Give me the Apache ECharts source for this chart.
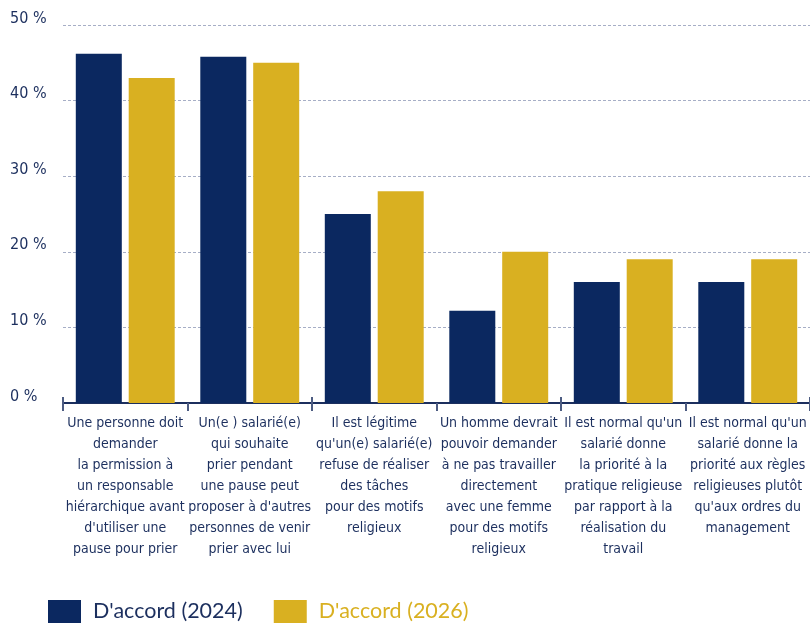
<!DOCTYPE html>
<html>
<head>
<meta charset="utf-8">
<script src="https://cdn.jsdelivr.net/npm/echarts@6/dist/echarts.min.js"></script>
<style>
  html, body { margin: 0; padding: 0; background: #fff; }
  #chart { width: 810px; height: 625px; }
</style>
</head>
<body>
<div id="chart"></div>
<script>
const categories = [
  "Une personne doit\ndemander\nla permission à\nun responsable\nhiérarchique avant\nd'utiliser une\npause pour prier",
  "Un(e ) salarié(e)\nqui souhaite\nprier pendant\nune pause peut\nproposer à d'autres\npersonnes de venir\nprier avec lui",
  "Il est légitime\nqu'un(e) salarié(e)\nrefuse de réaliser\ndes tâches\npour des motifs\nreligieux",
  "Un homme devrait\npouvoir demander\nà ne pas travailler\ndirectement\navec une femme\npour des motifs\nreligieux",
  "Il est normal qu'un\nsalarié donne\nla priorité à la\npratique religieuse\npar rapport à la\nréalisation du\ntravail",
  "Il est normal qu'un\nsalarié donne la\npriorité aux règles\nreligieuses plutôt\nqu'aux ordres du\nmanagement"
]
const seriesNames = ["D'accord (2024)", "D'accord (2026)"]
const values2024 = [46.2, 45.8, 25, 12.2, 16, 16]
const values2026 = [43, 45, 28, 20, 19, 19]

const navy = '#0b2860'
const gold = '#d9b021'
const textNavy = '#1c2f5e'
const condensed = '"DejaVu Sans Condensed", "Liberation Sans Narrow", sans-serif'

const chart = echarts.init(document.getElementById('chart'))

const option = {
  animation: false,
  grid: {
    left: 63,
    right: 0,
    top: 25,
    bottom: 222
  },
  legend: {
    left: 48,
    bottom: 2,
    padding: 0,
    itemWidth: 33,
    itemHeight: 23,
    itemGap: 31,
    icon: 'rect',
    textStyle: {
      fontFamily: 'Lato, sans-serif',
      fontSize: 21.5,
      padding: [0, 0, 0, 7]
    },
    data: [
      { name: seriesNames[0], textStyle: { color: textNavy } },
      { name: seriesNames[1], textStyle: { color: gold } }
    ]
  },
  xAxis: [
    {
      type: 'category',
      data: categories,
      axisLine: { lineStyle: { color: textNavy, width: 2 } },
      axisTick: { show: true, length: 8, lineStyle: { color: '#4d5c82', width: 2 } },
      axisLabel: {
        interval: 0,
        color: textNavy,
        fontFamily: condensed,
        fontSize: 14,
        lineHeight: 21,
        margin: 10
      }
    },
    {
      type: 'category',
      data: categories,
      position: 'bottom',
      axisLine: { show: false },
      axisTick: { show: true, inside: true, length: 6, lineStyle: { color: '#4d5c82', width: 2 } },
      axisLabel: { show: false }
    }
  ],
  yAxis: {
    type: 'value',
    min: 0,
    max: 50,
    interval: 10,
    axisLine: { show: false },
    axisTick: { show: false },
    splitLine: { lineStyle: { color: '#a6aec6', type: [3, 2], width: 1 } },
    axisLabel: {
      align: 'left',
      margin: 53,
      color: textNavy,
      fontFamily: condensed,
      fontSize: 16,
      verticalAlign: 'bottom',
      lineHeight: 13,
      formatter: v => v + ' %'
    }
  },
  series: [
    {
      name: seriesNames[0],
      type: 'bar',
      data: values2024,
      barWidth: 46,
      barGap: '15%',
      itemStyle: { color: navy }
    },
    {
      name: seriesNames[1],
      type: 'bar',
      data: values2026,
      barWidth: 46,
      barGap: '15%',
      itemStyle: { color: gold }
    }
  ]
}

chart.setOption(option)
</script>
</body>
</html>
